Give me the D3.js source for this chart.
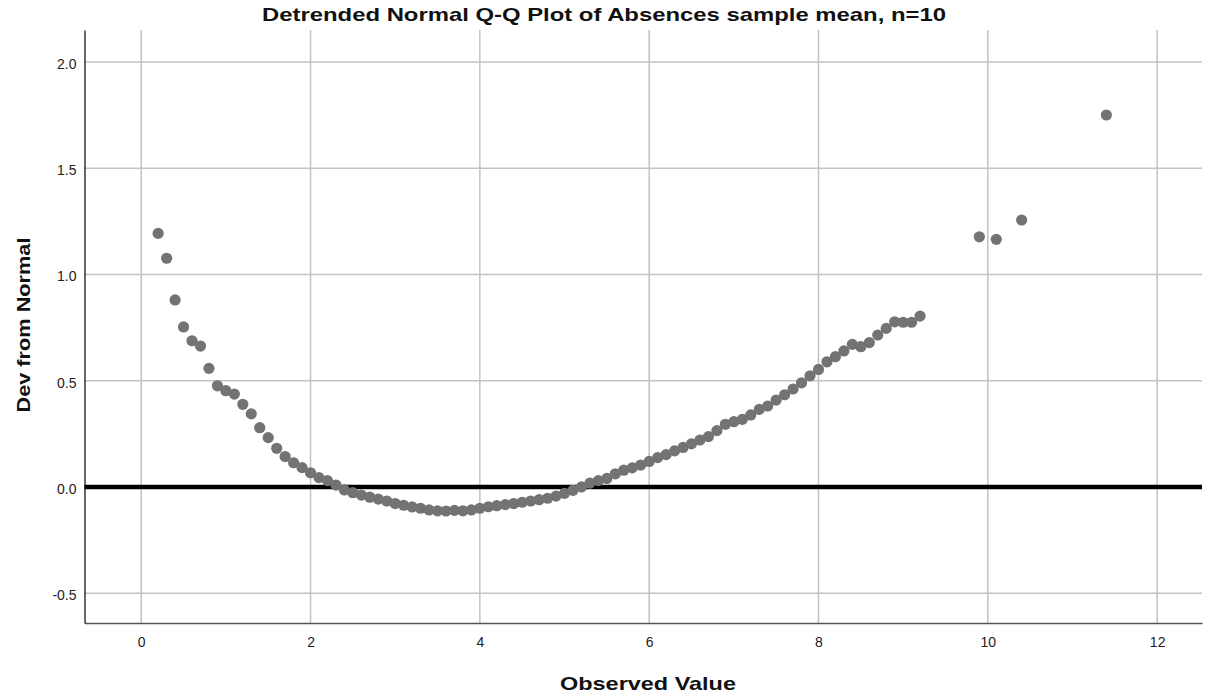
<!DOCTYPE html>
<html><head><meta charset="utf-8">
<script src="https://cdn.jsdelivr.net/npm/d3@7/dist/d3.min.js"></script>
<style>body{margin:0;background:#fff;} svg{display:block;}</style>
</head><body>
<svg id="chart" width="1216" height="696"></svg>
<script>
const observed = [0.2,0.3,0.4,0.5,0.6,0.7,0.8,0.9,1.0,1.1,1.2,1.3,1.4,1.5,1.6,1.7,1.8,1.9,2.0,2.1,2.2,2.3,2.4,2.5,2.6,2.7,2.8,2.9,3.0,3.1,3.2,3.3,3.4,3.5,3.6,3.7,3.8,3.9,4.0,4.1,4.2,4.3,4.4,4.5,4.6,4.7,4.8,4.9,5.0,5.1,5.2,5.3,5.4,5.5,5.6,5.7,5.8,5.9,6.0,6.1,6.2,6.3,6.4,6.5,6.6,6.7,6.8,6.9,7.0,7.1,7.2,7.3,7.4,7.5,7.6,7.7,7.8,7.9,8.0,8.1,8.2,8.3,8.4,8.5,8.6,8.7,8.8,8.9,9.0,9.1,9.2,9.9,10.1,10.4,11.4];
const devFromNormal = [1.193,1.076,0.880,0.753,0.688,0.663,0.558,0.476,0.453,0.437,0.389,0.344,0.279,0.232,0.182,0.143,0.114,0.091,0.067,0.044,0.030,0.009,-0.014,-0.027,-0.038,-0.048,-0.057,-0.066,-0.078,-0.086,-0.094,-0.100,-0.108,-0.112,-0.113,-0.110,-0.112,-0.108,-0.100,-0.093,-0.088,-0.083,-0.078,-0.072,-0.066,-0.060,-0.053,-0.043,-0.030,-0.016,0.000,0.018,0.030,0.040,0.062,0.079,0.090,0.103,0.120,0.138,0.152,0.170,0.186,0.203,0.221,0.237,0.265,0.295,0.307,0.318,0.339,0.365,0.381,0.409,0.434,0.461,0.490,0.523,0.553,0.589,0.613,0.640,0.671,0.660,0.679,0.715,0.746,0.777,0.775,0.775,0.804,1.177,1.165,1.256,1.750];
const xTicks = [0,2,4,6,8,10,12];
const yTicks = [-0.5,0.0,0.5,1.0,1.5,2.0];
const yTickLabels = ["-0.5","0.0","0.5","1.0","1.5","2.0"];
const titleText = "Detrended Normal Q-Q Plot of Absences sample mean, n=10";
const xTitle = "Observed Value";
const yTitle = "Dev from Normal";

const svg = d3.select("#chart");
const L = 84.5, R = 1202, T = 30, B = 623;
const x = d3.scaleLinear().domain([-0.67, 12.53]).range([L, R]);
const y = d3.scaleLinear().domain([-0.64, 2.15]).range([B, T]);
const font = "'Liberation Sans', Arial, sans-serif";

// gridlines
const grid = svg.append("g");
grid.selectAll("line.vx").data(xTicks).join("line")
  .attr("x1", d => x(d)).attr("x2", d => x(d))
  .attr("y1", T).attr("y2", B)
  .attr("stroke", "#c3c3c3").attr("stroke-width", 1.5);
grid.selectAll("line.hy").data(yTicks.filter(d => d !== 0)).join("line")
  .attr("x1", L).attr("x2", R)
  .attr("y1", d => y(d)).attr("y2", d => y(d))
  .attr("stroke", "#c3c3c3").attr("stroke-width", 1.5);

// axes
const xAxis = svg.append("g").attr("transform", `translate(0,${B})`)
  .call(d3.axisBottom(x).tickValues(xTicks).tickSize(0).tickPadding(14).tickFormat(d3.format("d")));
xAxis.select(".domain").attr("stroke", "#555").attr("stroke-width", 1.5);
const yAxis = svg.append("g").attr("transform", `translate(${L},0)`)
  .call(d3.axisLeft(y).tickValues(yTicks).tickSize(0).tickPadding(8)
    .tickFormat((d, i) => yTickLabels[i]));
yAxis.select(".domain").attr("stroke", "#000").attr("stroke-width", 1.2);
yAxis.selectAll(".tick text").attr("dy", "0.45em");
svg.selectAll(".tick text").attr("font-family", font).attr("font-size", 14).attr("fill", "#222");

// reference line at 0
svg.append("line").attr("x1", L).attr("x2", R)
  .attr("y1", y(0)).attr("y2", y(0))
  .attr("stroke", "#000").attr("stroke-width", 4.5);

// points
svg.append("g").selectAll("circle").data(observed).join("circle")
  .attr("cx", d => x(d)).attr("cy", (d, i) => y(devFromNormal[i]))
  .attr("r", 5.6).attr("fill", "#737373");

// titles
svg.append("text").attr("x", 604).attr("y", 21).attr("text-anchor", "middle")
  .attr("font-family", font).attr("font-weight", "bold").attr("font-size", 18.5)
  .attr("textLength", 684).attr("lengthAdjust", "spacingAndGlyphs")
  .attr("fill", "#111").text(titleText);
svg.append("text").attr("x", 648).attr("y", 690).attr("text-anchor", "middle")
  .attr("font-family", font).attr("font-weight", "bold").attr("font-size", 19)
  .attr("textLength", 176).attr("lengthAdjust", "spacingAndGlyphs")
  .attr("fill", "#111").text(xTitle);
svg.append("text").attr("transform", "translate(30,325) rotate(-90)").attr("text-anchor", "middle")
  .attr("font-family", font).attr("font-weight", "bold").attr("font-size", 19)
  .attr("textLength", 175).attr("lengthAdjust", "spacingAndGlyphs")
  .attr("fill", "#111").text(yTitle);
</script>
</body></html>
